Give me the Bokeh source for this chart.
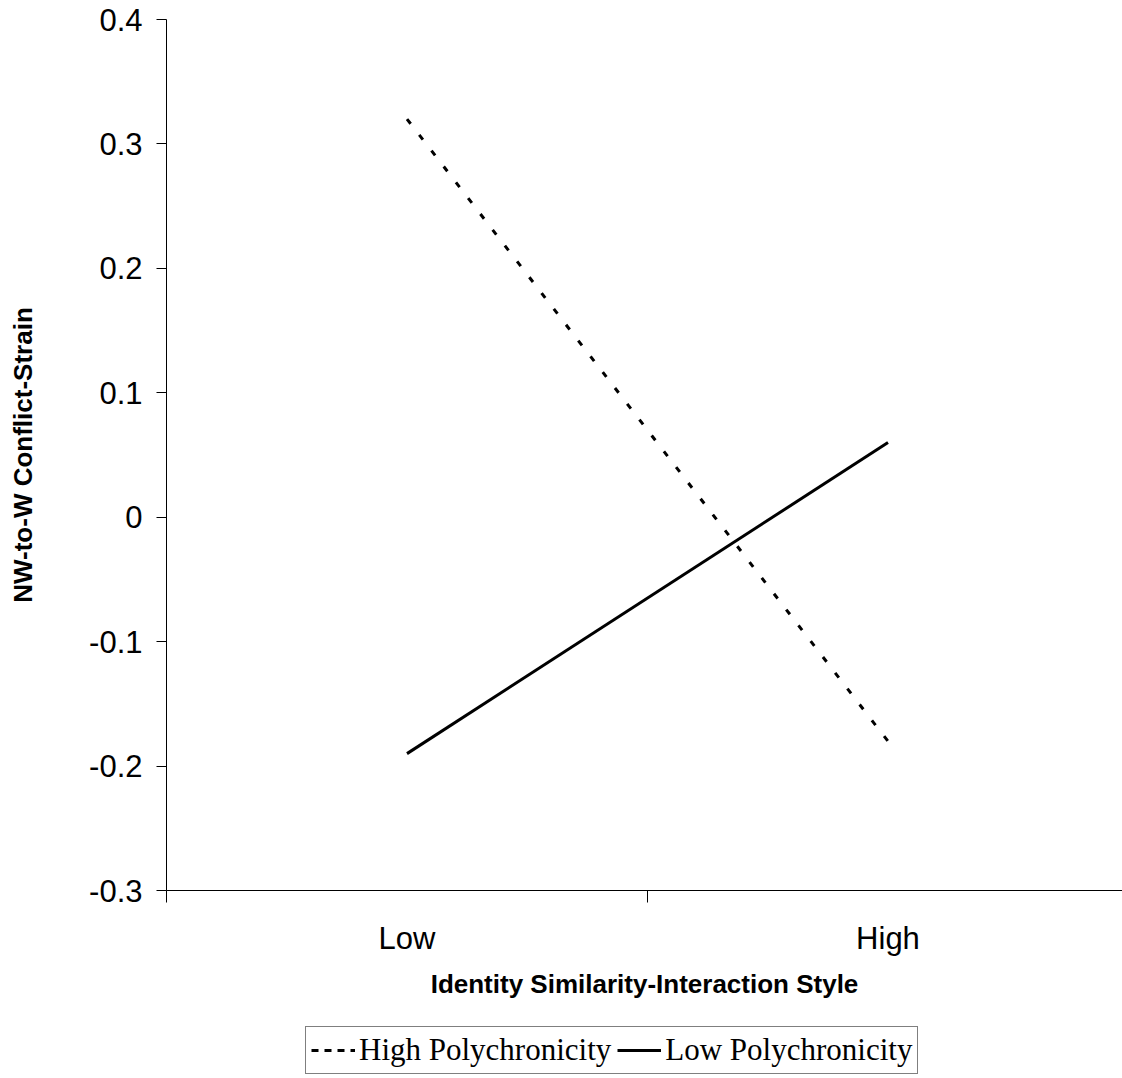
from bokeh.plotting import figure
from bokeh.layouts import column
from bokeh.models import FixedTicker, Legend, LegendItem, Range1d
from bokeh.embed import file_html
from bokeh.resources import INLINE

# ---- data ----
categories = ["Low", "High"]
high_poly = [0.32, -0.18]   # High Polychronicity
low_poly = [-0.19, 0.06]    # Low Polychronicity
y_ticks = [0.4, 0.3, 0.2, 0.1, 0.0, -0.1, -0.2, -0.3]
y_tick_labels = ["0.4", "0.3", "0.2", "0.1", "0", "-0.1", "-0.2", "-0.3"]
x_title = "Identity Similarity-Interaction Style"
y_title = "NW-to-W Conflict-Strain"
series_names = ["High Polychronicity", "Low Polychronicity"]

# category centres at i + 0.5, boundaries at integers
xs = [i + 0.5 for i in range(len(categories))]

p = figure(
    width=1122, height=1020,
    min_border_left=166, min_border_top=19, min_border_right=0, min_border_bottom=130,
    x_range=Range1d(0, 956 / 481.0), y_range=Range1d(-0.3, 0.4),
    output_backend="svg", toolbar_location=None,
    background_fill_color="white", border_fill_color="white",
)
p.outline_line_color = None
p.grid.visible = False

p.line(xs, high_poly, line_color="black", line_width=3, line_dash="6 14")
p.line(xs, low_poly, line_color="black", line_width=3)

# x axis
xa = p.xaxis[0]
xa.ticker = FixedTicker(ticks=xs, minor_ticks=list(range(len(categories) + 1)))
xa.major_label_overrides = {x: c for x, c in zip(xs, categories)}
xa.major_tick_out = 0
xa.major_tick_in = 0
xa.minor_tick_out = 12
xa.minor_tick_in = 0
xa.minor_tick_line_color = "black"
xa.axis_line_color = "black"
xa.major_label_text_font = "Liberation Sans"
xa.major_label_text_font_size = "31px"
xa.major_label_text_color = "black"
xa.major_label_standoff = 18
xa.axis_label = x_title
xa.axis_label_text_font = "Liberation Sans"
xa.axis_label_text_font_style = "bold"
xa.axis_label_text_font_size = "26px"
xa.axis_label_text_color = "black"
xa.axis_label_standoff = 10

# y axis
ya = p.yaxis[0]
ya.ticker = FixedTicker(ticks=y_ticks, minor_ticks=[])
ya.major_label_overrides = {t: s for t, s in zip(y_ticks, y_tick_labels)}
ya.major_tick_out = 10
ya.major_tick_in = 0
ya.major_tick_line_color = "black"
ya.axis_line_color = "black"
ya.major_label_text_font = "Liberation Sans"
ya.major_label_text_font_size = "31px"
ya.major_label_text_color = "black"
ya.major_label_standoff = 14
ya.axis_label = y_title
ya.axis_label_text_font = "Liberation Sans"
ya.axis_label_text_font_style = "bold"
ya.axis_label_text_font_size = "26px"
ya.axis_label_text_color = "black"
ya.axis_label_standoff = 48

# ---- legend strip below the chart (series drawn out of view; legend keys only) ----
lg = figure(
    width=1122, height=58, min_border=0,
    x_range=Range1d(100, 101), y_range=Range1d(100, 101),
    x_axis_location=None, y_axis_location=None,
    output_backend="svg", toolbar_location=None,
    background_fill_color="white", border_fill_color="white",
)
lg.outline_line_color = None
lg.grid.visible = False
k1 = lg.line(xs, high_poly, line_color="black", line_width=3, line_dash="7 6")
k2 = lg.line(xs, low_poly, line_color="black", line_width=3)

legend = Legend(
    items=[LegendItem(label=series_names[0], renderers=[k1]),
           LegendItem(label=series_names[1], renderers=[k2])],
    orientation="horizontal", location=(139, 4),
    border_line_color="black", border_line_width=1,
    label_text_font="Liberation Serif", label_text_font_size="31px",
    label_text_color="black",
    glyph_width=44, glyph_height=20, spacing=6, label_standoff=4,
    padding=5, margin=0,
    background_fill_alpha=1.0,
)
lg.add_layout(legend, "center")

layout = column(p, lg, spacing=0)
open("out.html", "w").write(file_html(layout, INLINE))
